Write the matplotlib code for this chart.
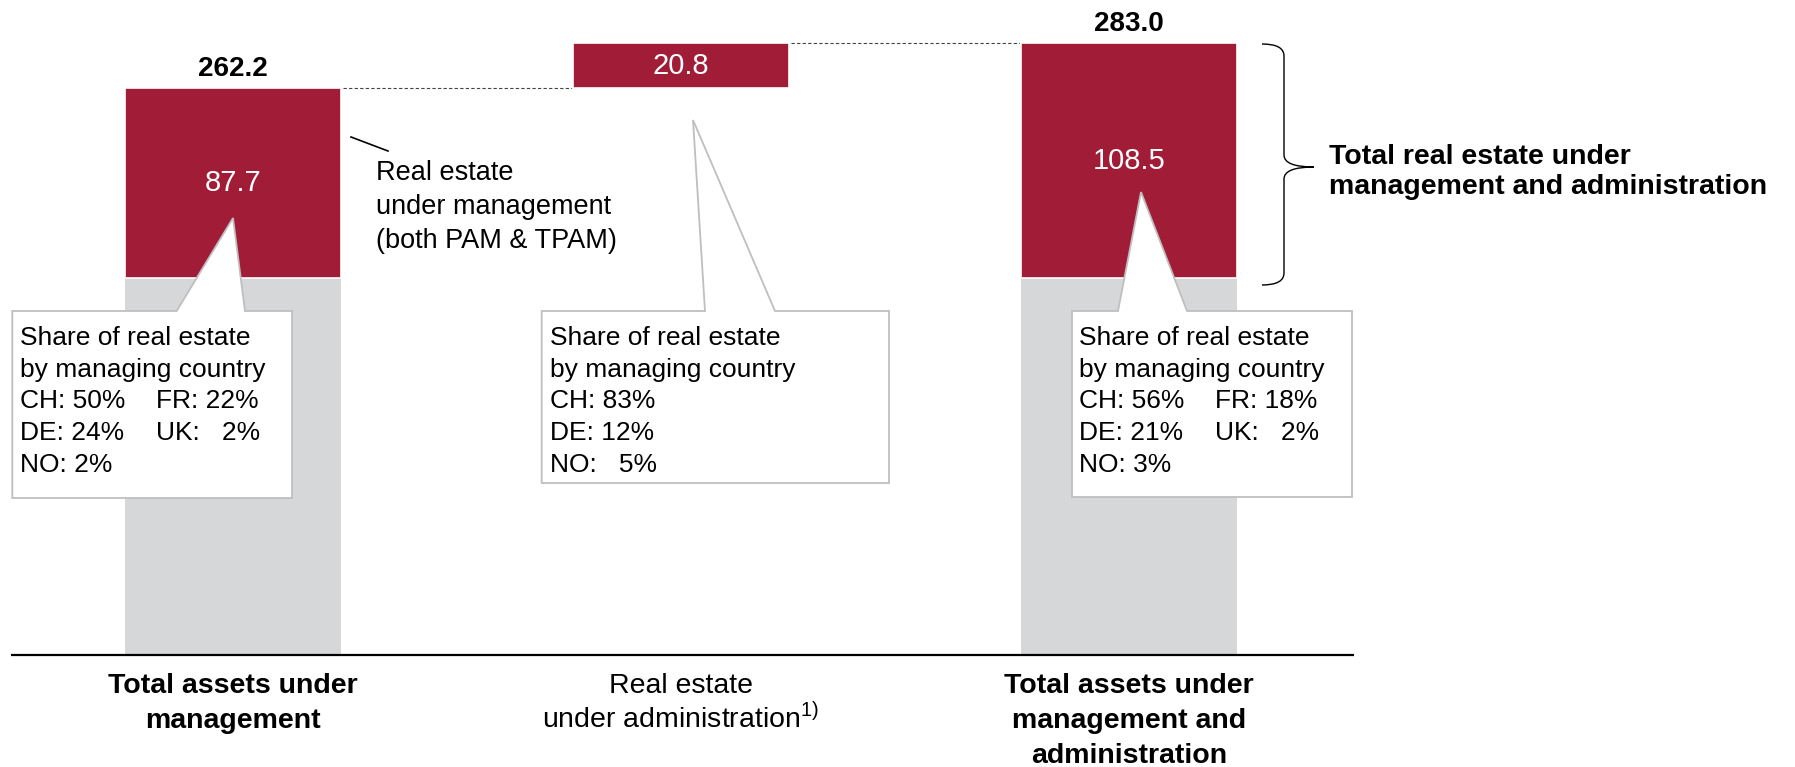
import matplotlib
matplotlib.use("Agg")
import matplotlib.pyplot as plt
from matplotlib.patches import Polygon, PathPatch
from matplotlib.path import Path
from matplotlib.transforms import blended_transform_factory

plt.rcParams['font.family'] = 'Liberation Sans'
plt.rcParams['mathtext.fontset'] = 'custom'
plt.rcParams['mathtext.rm'] = 'Liberation Sans'

# CHF bn
stage_labels = [
    ["Total assets under", "management"],
    ["Real estate", "under administration$^{\\mathrm{1)}}$"],
    ["Total assets under", "management and", "administration"],
]
stage_bold = [True, False, True]
stage_totals = [262.2, 283.0, 283.0]     # top of each bar
real_estate = [87.7, 20.8, 108.5]        # red segment
show_total = [True, False, True]

# share of real estate by managing country, laid out in rows
share_rows = [
    [[("CH", 50), ("FR", 22)], [("DE", 24), ("UK", 2)], [("NO", 2)]],
    [[("CH", 83)], [("DE", 12)], [("NO", 5)]],
    [[("CH", 56), ("FR", 18)], [("DE", 21), ("UK", 2)], [("NO", 3)]],
]

RED = "#A11C37"
GRAY = "#D6D7D9"
W, H = 1795, 767

fig = plt.figure(figsize=(W / 100, H / 100), dpi=100)
ax = fig.add_axes([0, 0, 1, 1])
ax.set_xlim(-0.5201, 3.4866)
ax.set_ylim(-51.83, 303.13)
ax.axis('off')

# pixel overlay for annotations
ov = fig.add_axes([0, 0, 1, 1], zorder=5)
ov.set_xlim(0, W)
ov.set_ylim(H, 0)
ov.axis('off')
ov.patch.set_alpha(0)

bw = 0.482
xs = list(range(len(stage_totals)))
for i in xs:
    top = stage_totals[i]
    red = real_estate[i]
    if show_total[i]:
        ax.bar(i, top - red, width=bw, bottom=0, color=GRAY, zorder=1)
    ax.bar(i, red, width=bw, bottom=top - red, color=RED, edgecolor="white",
           linewidth=1.2, zorder=2)
    ax.text(i, top - red / 2, f"{red:.1f}", color="white", ha="center",
            va="center", fontsize=21, zorder=3)
    if show_total[i]:
        ax.annotate(f"{top:.1f}", (i, top), xytext=(0, 9), textcoords="offset points",
                    ha="center", va="baseline", fontsize=20, fontweight="bold")

# dashed connectors between bar tops
for i in range(len(xs) - 1):
    y = stage_totals[i] if i == 0 else stage_totals[i + 1]
    ax.plot([i + bw / 2 + 0.005, i + 1 - bw / 2 - 0.003], [y, y],
            ls=(0, (3, 2)), color="#444444", lw=0.8, zorder=1)

ax.hlines(0, -0.4955, 2.502, color="black", lw=1.6, zorder=4)

# category labels under the axis
bt = blended_transform_factory(ax.transData, ov.transData)
for i, lines in enumerate(stage_labels):
    for j, line in enumerate(lines):
        ax.text(i, 693 + 35 * j, line, transform=bt, ha="center", va="baseline",
                fontsize=20.5, fontweight="bold" if stage_bold[i] else "normal")


def callout(box, base, apex, rows, text_x):
    x0, y0, x1, y1 = box
    pts = [(x0, y0), (base[0], y0), apex, (base[1], y0), (x1, y0), (x1, y1), (x0, y1)]
    ov.add_patch(Polygon(pts, closed=True, facecolor="white", edgecolor="#BFBFBF",
                         lw=1.3, joinstyle="miter"))
    heads = ["Share of real estate", "by managing country"]
    ncols = max(len(r) for r in rows)
    pitch = 31.75
    for k, h in enumerate(heads):
        ov.text(text_x, 345 + pitch * k, h, fontsize=19, va="baseline")
    for r, row in enumerate(rows):
        for c, (code, pct) in enumerate(row):
            pad = ncols == 1 or len(row) == 2
            num = f"  {pct}%" if (pct < 10 and pad) else f"{pct}%"
            ov.text(text_x + 136 * c, 345 + pitch * (r + 2), f"{code}: {num}",
                    fontsize=19, va="baseline")


callout((12.3, 311, 292, 498), (176.7, 245), (233, 218), share_rows[0], 20.5)
callout((541.7, 311, 889, 483), (705, 775), (693, 120), share_rows[1], 550)
callout((1072, 311, 1352, 497), (1118, 1187), (1141, 192), share_rows[2], 1079)

# side label for the managed real estate
ov.plot([351, 388], [137, 151], color="black", lw=1.2)
for j, line in enumerate(["Real estate", "under management", "(both PAM & TPAM)"]):
    ov.text(376, 180 + 34 * j, line, fontsize=19.5, va="baseline")

# brace around the combined real estate
x0, xm, xt = 1262, 1284, 1314
top, mid, bot, r = 44, 167, 285, 12
verts = [(x0, top), (xm, top), (xm, top + r),
         (xm, mid - r),
         (xm, mid), (xt, mid),
         (xm, mid), (xm, mid + r),
         (xm, bot - r),
         (xm, bot), (x0, bot)]
codes = [Path.MOVETO, Path.CURVE3, Path.CURVE3,
         Path.LINETO,
         Path.CURVE3, Path.CURVE3,
         Path.CURVE3, Path.CURVE3,
         Path.LINETO,
         Path.CURVE3, Path.CURVE3]
ov.add_patch(PathPatch(Path(verts, codes), facecolor="none", edgecolor="black", lw=1.0))
for j, line in enumerate(["Total real estate under", "management and administration"]):
    ov.text(1329, 163.5 + 30 * j, line, fontsize=20.5, fontweight="bold", va="baseline")

fig.savefig("out.png", dpi=100)
